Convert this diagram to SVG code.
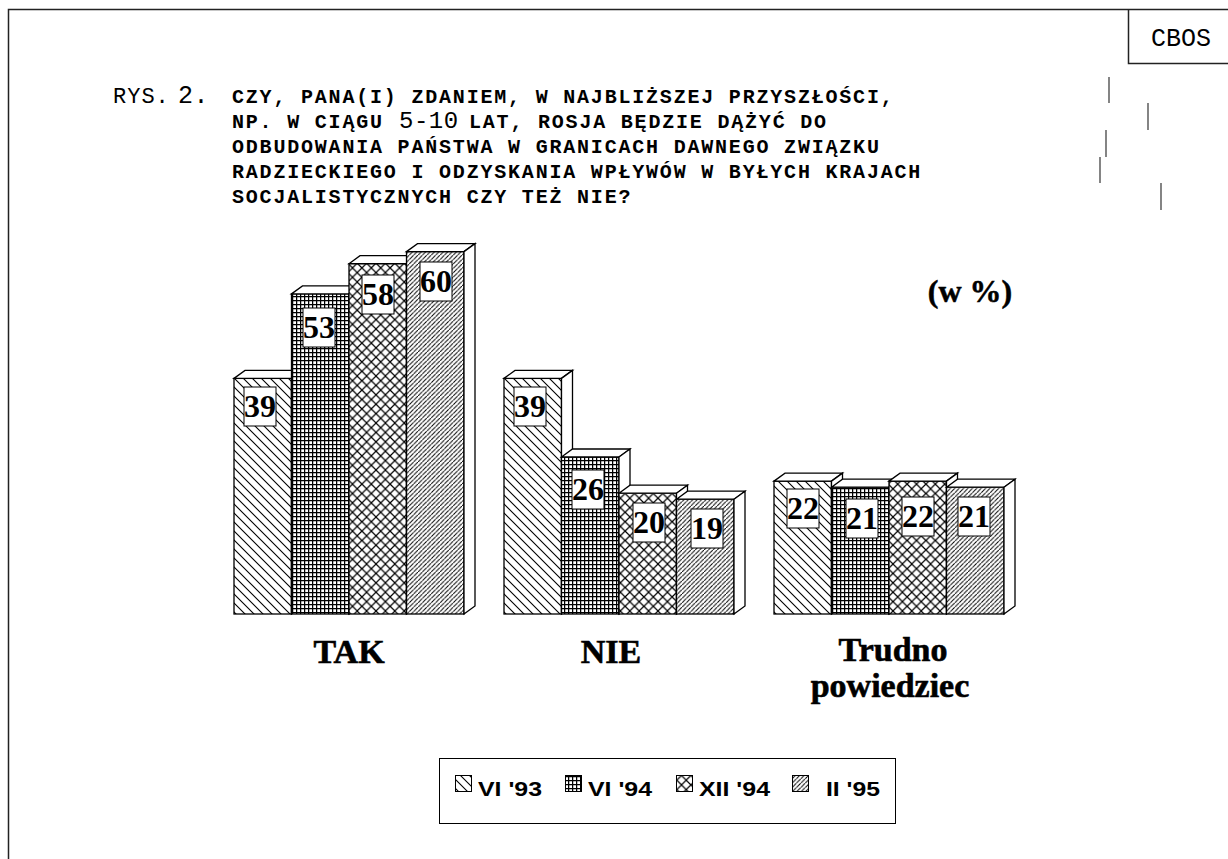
<svg xmlns="http://www.w3.org/2000/svg" width="1228" height="859" viewBox="0 0 1228 859">
<defs>
<style>
.frame{fill:none;stroke:#222;stroke-width:1.5}
.mark{stroke:#333;stroke-width:1.2}
.t{font-family:"Liberation Mono","Courier New",monospace;font-size:20px;font-weight:bold;letter-spacing:1.8px;fill:#000}
.tr{font-family:"Liberation Mono","Courier New",monospace;font-weight:normal;fill:#000}
.bar{stroke:#000;stroke-width:1.3}
.face{fill:#fff;stroke:#000;stroke-width:1.3}
.lb{fill:#fff;stroke:#000;stroke-width:1}
.lt{font-family:"Liberation Serif","Times New Roman",serif;font-size:32px;font-weight:bold;text-anchor:middle;fill:#000}
.cat{font-family:"Liberation Serif","Times New Roman",serif;font-size:34px;font-weight:bold;text-anchor:middle;fill:#000;stroke:#000;stroke-width:0.6}
.leg{font-family:"Liberation Sans",Arial,sans-serif;font-size:21px;font-weight:bold;fill:#000}
.sw{stroke:#000;stroke-width:1}
</style>
<pattern id="p1" patternUnits="userSpaceOnUse" width="9" height="9">
<rect width="9" height="9" fill="#fff"/>
<path d="M-1,-1 L10,10 M-1,8 L1,10 M8,-1 L10,1" stroke="#000" stroke-width="1.1"/>
</pattern>
<pattern id="p2" patternUnits="userSpaceOnUse" width="4" height="4">
<rect width="4" height="4" fill="#fff"/>
<path d="M0.6,0 V4 M0,0.6 H4" stroke="#000" stroke-width="1.3"/>
</pattern>
<pattern id="p3" patternUnits="userSpaceOnUse" width="9.4" height="9.4">
<rect width="9.4" height="9.4" fill="#fff"/>
<path d="M-1,-1 L10.4,10.4 M-1,10.4 L10.4,-1" stroke="#000" stroke-width="1.2"/>
</pattern>
<pattern id="p4" patternUnits="userSpaceOnUse" width="4.4" height="4.4">
<rect width="4.4" height="4.4" fill="#fff"/>
<path d="M-1,5.4 L5.4,-1" stroke="#000" stroke-width="1"/>
</pattern>
</defs>
<rect width="1228" height="859" fill="#fff"/>

<g id="frame">
<path class="frame" d="M8.5,859 V9.5 H1228"/>
<path class="frame" d="M1128.5,9.5 V63.5 H1228"/>
<text x="1151" y="46" class="tr" font-size="25">CBOS</text>
<line class="mark" x1="1109" y1="77" x2="1109" y2="103"/>
<line class="mark" x1="1148" y1="103" x2="1148" y2="130"/>
<line class="mark" x1="1106" y1="130" x2="1106" y2="157"/>
<line class="mark" x1="1100" y1="157" x2="1100" y2="183"/>
<line class="mark" x1="1161" y1="183" x2="1161" y2="210"/>
</g>

<g id="title">
<text y="103"><tspan x="113" class="tr" font-size="22" letter-spacing="1">RYS.</tspan><tspan x="178" class="tr" font-size="25" letter-spacing="0.5">2.</tspan><tspan x="232" class="t">CZY, PANA(I) ZDANIEM, W NAJBLIŻSZEJ PRZYSZŁOŚCI,</tspan></text>
<text y="128"><tspan x="232" class="t">NP. W CIĄGU</tspan><tspan x="399" class="tr" font-size="24" letter-spacing="0.5">5-10</tspan><tspan x="469" class="t">LAT, ROSJA BĘDZIE DĄŻYĆ DO</tspan></text>
<text x="232" y="153" class="t">ODBUDOWANIA PAŃSTWA W GRANICACH DAWNEGO ZWIĄZKU</text>
<text x="232" y="178" class="t">RADZIECKIEGO I ODZYSKANIA WPŁYWÓW W BYŁYCH KRAJACH</text>
<text x="232" y="203" class="t">SOCJALISTYCZNYCH CZY TEŻ NIE?</text>
</g>

<text x="970" y="302" class="lt" font-size="27" id="unit" stroke="#000" stroke-width="0.5">(w %)</text>

<g id="bars-tak">
<g id="tak-1"><rect class="bar" x="234" y="378.4" width="57.5" height="235.6" fill="url(#p1)"/><polygon class="face" points="234,378.4 245,370.4 302.5,370.4 291.5,378.4"/><polygon class="face" points="291.5,378.4 302.5,370.4 302.5,606 291.5,614"/></g>
<g id="tak-2"><rect class="bar" x="291.5" y="293.9" width="57.5" height="320.1" fill="url(#p2)"/><polygon class="face" points="291.5,293.9 302.5,285.9 360,285.9 349,293.9"/><polygon class="face" points="349,293.9 360,285.9 360,606 349,614"/></g>
<g id="tak-3"><rect class="bar" x="349" y="263.7" width="57.5" height="350.3" fill="url(#p3)"/><polygon class="face" points="349,263.7 360,255.7 417.5,255.7 406.5,263.7"/><polygon class="face" points="406.5,263.7 417.5,255.7 417.5,606 406.5,614"/></g>
<g id="tak-4"><rect class="bar" x="406.5" y="251.6" width="57.5" height="362.4" fill="url(#p4)"/><polygon class="face" points="406.5,251.6 417.5,243.6 475,243.6 464,251.6"/><polygon class="face" points="464,251.6 475,243.6 475,606 464,614"/></g>
<g id="tak-labels">
<rect class="lb" x="244" y="387" width="32" height="39"/><text class="lt" x="260" y="417">39</text>
<rect class="lb" x="303" y="308" width="32" height="39"/><text class="lt" x="319" y="338">53</text>
<rect class="lb" x="362" y="275" width="32" height="39"/><text class="lt" x="378" y="305">58</text>
<rect class="lb" x="420" y="262" width="32" height="39"/><text class="lt" x="436" y="292">60</text>
</g>
</g>

<g id="bars-nie">
<g id="nie-1"><rect class="bar" x="504" y="378.4" width="57.5" height="235.6" fill="url(#p1)"/><polygon class="face" points="504,378.4 515,370.4 572.5,370.4 561.5,378.4"/><polygon class="face" points="561.5,378.4 572.5,370.4 572.5,606 561.5,614"/></g>
<g id="nie-2"><rect class="bar" x="561.5" y="457" width="57.5" height="157" fill="url(#p2)"/><polygon class="face" points="561.5,457 572.5,449 630,449 619,457"/><polygon class="face" points="619,457 630,449 630,606 619,614"/></g>
<g id="nie-3"><rect class="bar" x="619" y="493.2" width="57.5" height="120.8" fill="url(#p3)"/><polygon class="face" points="619,493.2 630,485.2 687.5,485.2 676.5,493.2"/><polygon class="face" points="676.5,493.2 687.5,485.2 687.5,606 676.5,614"/></g>
<g id="nie-4"><rect class="bar" x="676.5" y="499.2" width="57.5" height="114.8" fill="url(#p4)"/><polygon class="face" points="676.5,499.2 687.5,491.2 745,491.2 734,499.2"/><polygon class="face" points="734,499.2 745,491.2 745,606 734,614"/></g>
<g id="nie-labels">
<rect class="lb" x="514" y="387" width="32" height="39"/><text class="lt" x="530" y="417">39</text>
<rect class="lb" x="572" y="470" width="32" height="39"/><text class="lt" x="588" y="500">26</text>
<rect class="lb" x="633" y="503" width="32" height="39"/><text class="lt" x="649" y="533">20</text>
<rect class="lb" x="691" y="509" width="32" height="39"/><text class="lt" x="707" y="539">19</text>
</g>
</g>

<g id="bars-trudno">
<g id="tr-1"><rect class="bar" x="774" y="481.1" width="57.5" height="132.9" fill="url(#p1)"/><polygon class="face" points="774,481.1 785,473.1 842.5,473.1 831.5,481.1"/><polygon class="face" points="831.5,481.1 842.5,473.1 842.5,606 831.5,614"/></g>
<g id="tr-2"><rect class="bar" x="831.5" y="487.2" width="57.5" height="126.8" fill="url(#p2)"/><polygon class="face" points="831.5,487.2 842.5,479.2 900,479.2 889,487.2"/><polygon class="face" points="889,487.2 900,479.2 900,606 889,614"/></g>
<g id="tr-3"><rect class="bar" x="889" y="481.1" width="57.5" height="132.9" fill="url(#p3)"/><polygon class="face" points="889,481.1 900,473.1 957.5,473.1 946.5,481.1"/><polygon class="face" points="946.5,481.1 957.5,473.1 957.5,606 946.5,614"/></g>
<g id="tr-4"><rect class="bar" x="946.5" y="487.2" width="57.5" height="126.8" fill="url(#p4)"/><polygon class="face" points="946.5,487.2 957.5,479.2 1015,479.2 1004,487.2"/><polygon class="face" points="1004,487.2 1015,479.2 1015,606 1004,614"/></g>
<g id="tr-labels">
<rect class="lb" x="787" y="489" width="32" height="39"/><text class="lt" x="803" y="519">22</text>
<rect class="lb" x="846" y="499" width="32" height="39"/><text class="lt" x="862" y="529">21</text>
<rect class="lb" x="902" y="497" width="32" height="39"/><text class="lt" x="918" y="527">22</text>
<rect class="lb" x="958" y="497" width="32" height="39"/><text class="lt" x="974" y="527">21</text>
</g>
</g>

<g id="categories">
<text class="cat" x="349" y="663">TAK</text>
<text class="cat" x="611" y="663">NIE</text>
<text class="cat" x="893" y="661">Trudno</text>
<text class="cat" x="890" y="697">powiedziec</text>
</g>

<g id="legend">
<rect x="439.5" y="758.5" width="456" height="65" fill="#fff" stroke="#000" stroke-width="1"/>
<rect class="sw" x="455.5" y="775.5" width="16" height="16" fill="url(#p1)"/>
<text class="leg" x="478" y="796" textLength="64" lengthAdjust="spacingAndGlyphs">VI '93</text>
<rect class="sw" x="565.5" y="775.5" width="16" height="16" fill="url(#p2)"/>
<text class="leg" x="588" y="796" textLength="64" lengthAdjust="spacingAndGlyphs">VI '94</text>
<rect class="sw" x="676.5" y="775.5" width="16" height="16" fill="url(#p3)"/>
<text class="leg" x="699" y="796" textLength="71" lengthAdjust="spacingAndGlyphs">XII '94</text>
<rect class="sw" x="792.5" y="775.5" width="16" height="16" fill="url(#p4)"/>
<text class="leg" x="826" y="796" textLength="54" lengthAdjust="spacingAndGlyphs">II '95</text>
</g>
</svg>
